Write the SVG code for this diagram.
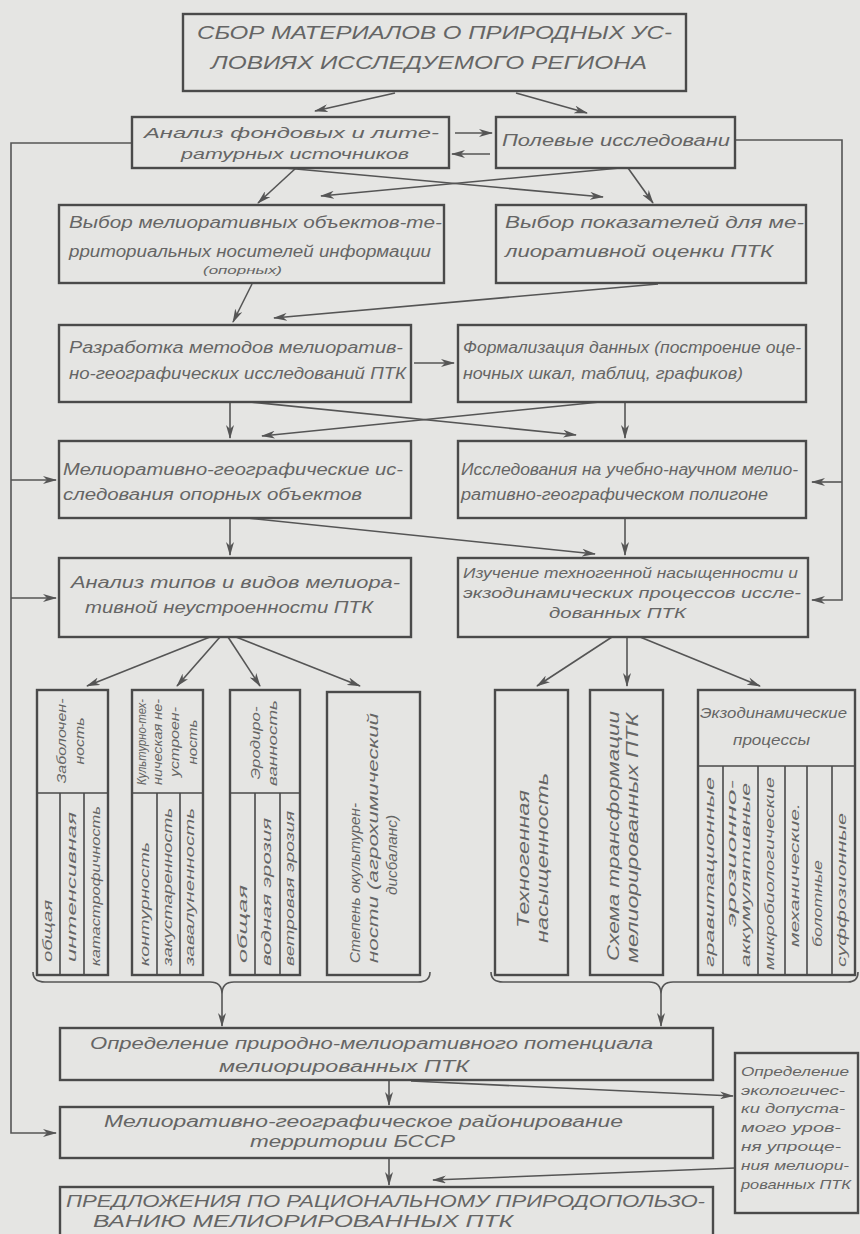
<svg xmlns="http://www.w3.org/2000/svg" width="860" height="1234" viewBox="0 0 860 1234">
<style>
.box{fill:none;stroke:#4a4a4a;stroke-width:2.4}
.div{fill:none;stroke:#4a4a4a;stroke-width:1.6}
.c{fill:none;stroke:#555;stroke-width:1.6}
.t{font-family:"Liberation Sans",Arial,sans-serif;font-style:italic;fill:#656565}
</style>
<defs>
<marker id="ah" viewBox="0 0 14 8" refX="13" refY="4" markerWidth="14" markerHeight="8" markerUnits="userSpaceOnUse" orient="auto"><path d="M0,0 L14,4 L0,8 L4,4 z" fill="#555"/></marker>
</defs>
<rect x="0" y="0" width="860" height="1234" fill="#e5e5e3"/>

<g id="connectors">
<path class="c" d="M132,143 H11 V1133 H56" marker-end="url(#ah)"/>
<path class="c" d="M11,480 H56" marker-end="url(#ah)"/>
<path class="c" d="M11,598 H56" marker-end="url(#ah)"/>
<path class="c" d="M735,140 H842 V600 H812" marker-end="url(#ah)"/>
<path class="c" d="M842,482 H812" marker-end="url(#ah)"/>
<path class="c" d="M395,93 L315,111" marker-end="url(#ah)"/>
<path class="c" d="M516,93 L587,113" marker-end="url(#ah)"/>
<path class="c" d="M455,133 L492,133" marker-end="url(#ah)"/>
<path class="c" d="M490,154 L452,154" marker-end="url(#ah)"/>
<path class="c" d="M296,168 L258,203" marker-end="url(#ah)"/>
<path class="c" d="M285,168 L603,197" marker-end="url(#ah)"/>
<path class="c" d="M620,168 L321,196" marker-end="url(#ah)"/>
<path class="c" d="M628,168 L653,203" marker-end="url(#ah)"/>
<path class="c" d="M252,284 L233,322" marker-end="url(#ah)"/>
<path class="c" d="M658,284 L274,318" marker-end="url(#ah)"/>
<path class="c" d="M414,363 L454,363" marker-end="url(#ah)"/>
<path class="c" d="M230,402 L230,438" marker-end="url(#ah)"/>
<path class="c" d="M625,402 L625,438" marker-end="url(#ah)"/>
<path class="c" d="M250,402 L576,435" marker-end="url(#ah)"/>
<path class="c" d="M600,402 L262,436" marker-end="url(#ah)"/>
<path class="c" d="M230,518 L230,555" marker-end="url(#ah)"/>
<path class="c" d="M625,518 L625,555" marker-end="url(#ah)"/>
<path class="c" d="M247,518 L595,554" marker-end="url(#ah)"/>
<path class="c" d="M210,637 L87,686" marker-end="url(#ah)"/>
<path class="c" d="M220,637 L177,686" marker-end="url(#ah)"/>
<path class="c" d="M228,637 L260,686" marker-end="url(#ah)"/>
<path class="c" d="M236,637 L360,686" marker-end="url(#ah)"/>
<path class="c" d="M612,637 L537,686" marker-end="url(#ah)"/>
<path class="c" d="M627,637 L627,686" marker-end="url(#ah)"/>
<path class="c" d="M640,637 L760,686" marker-end="url(#ah)"/>
<path class="c" d="M33,972 Q33,982 45,982 L210,982 Q222,982 222,994 Q222,982 234,982 L418,982 Q430,982 430,972"/>
<path class="c" d="M491,972 Q491,982 503,982 L649,982 Q661,982 661,994 Q661,982 673,982 L848,982 Q858,982 858,972"/>
<path class="c" d="M222,994 L222,1026" marker-end="url(#ah)"/>
<path class="c" d="M661,994 L661,1026" marker-end="url(#ah)"/>
<path class="c" d="M389,1080 L389,1105" marker-end="url(#ah)"/>
<path class="c" d="M411,1081 L733,1096" marker-end="url(#ah)"/>
<path class="c" d="M389,1158 L389,1185" marker-end="url(#ah)"/>
<path class="c" d="M735,1168 L433,1180" marker-end="url(#ah)"/>
</g>

<g id="n-sbor">
<rect class="box" x="183" y="14" width="503" height="77"/>
<text class="t" x="197" y="38.5" font-size="18" textLength="475" lengthAdjust="spacingAndGlyphs">СБОР МАТЕРИАЛОВ О ПРИРОДНЫХ УС-</text>
<text class="t" x="211" y="68.5" font-size="18" textLength="436" lengthAdjust="spacingAndGlyphs">ЛОВИЯХ ИССЛЕДУЕМОГО РЕГИОНА</text>
</g>

<g id="n-analiz-fond">
<rect class="box" x="132" y="117" width="317" height="51"/>
<text class="t" x="144" y="138" font-size="15" textLength="295" lengthAdjust="spacingAndGlyphs">Анализ фондовых и лите-</text>
<text class="t" x="181" y="159" font-size="15" textLength="228" lengthAdjust="spacingAndGlyphs">ратурных источников</text>
</g>

<g id="n-polevye">
<rect class="box" x="496" y="117" width="239" height="51"/>
<text class="t" x="502" y="146" font-size="16" textLength="228" lengthAdjust="spacingAndGlyphs">Полевые исследовани</text>
</g>

<g id="n-vybor-obj">
<rect class="box" x="59" y="205" width="385" height="78"/>
<text class="t" x="69" y="228" font-size="16" textLength="373" lengthAdjust="spacingAndGlyphs">Выбор мелиоративных объектов-те-</text>
<text class="t" x="69" y="257" font-size="16" textLength="362" lengthAdjust="spacingAndGlyphs">рриториальных носителей информации</text>
<text class="t" x="203" y="274" font-size="11" textLength="79" lengthAdjust="spacingAndGlyphs">(опорных)</text>
</g>

<g id="n-vybor-pokaz">
<rect class="box" x="496" y="205" width="310" height="78"/>
<text class="t" x="505" y="228" font-size="16" textLength="299" lengthAdjust="spacingAndGlyphs">Выбор показателей для ме-</text>
<text class="t" x="505" y="257" font-size="16" textLength="268" lengthAdjust="spacingAndGlyphs">лиоративной оценки ПТК</text>
</g>

<g id="n-razrabotka">
<rect class="box" x="59" y="325" width="352" height="77"/>
<text class="t" x="69" y="353" font-size="16" textLength="334" lengthAdjust="spacingAndGlyphs">Разработка методов мелиоратив-</text>
<text class="t" x="69" y="379" font-size="16" textLength="337" lengthAdjust="spacingAndGlyphs">но-географических исследований ПТК</text>
</g>

<g id="n-formalizaciya">
<rect class="box" x="458" y="325" width="348" height="77"/>
<text class="t" x="463" y="353" font-size="16" textLength="338" lengthAdjust="spacingAndGlyphs">Формализация данных (построение оце-</text>
<text class="t" x="463" y="379" font-size="16" textLength="280" lengthAdjust="spacingAndGlyphs">ночных шкал, таблиц, графиков)</text>
</g>

<g id="n-mel-geo-issl">
<rect class="box" x="59" y="441" width="352" height="77"/>
<text class="t" x="63" y="475" font-size="16" textLength="340" lengthAdjust="spacingAndGlyphs">Мелиоративно-географические ис-</text>
<text class="t" x="63" y="500" font-size="16" textLength="299" lengthAdjust="spacingAndGlyphs">следования опорных объектов</text>
</g>

<g id="n-poligon">
<rect class="box" x="458" y="441" width="348" height="77"/>
<text class="t" x="461" y="475" font-size="16" textLength="337" lengthAdjust="spacingAndGlyphs">Исследования на учебно-научном мелио-</text>
<text class="t" x="461" y="500" font-size="16" textLength="307" lengthAdjust="spacingAndGlyphs">ративно-географическом полигоне</text>
</g>

<g id="n-analiz-tipov">
<rect class="box" x="59" y="558" width="352" height="79"/>
<text class="t" x="71" y="588" font-size="16" textLength="329" lengthAdjust="spacingAndGlyphs">Анализ типов и видов мелиора-</text>
<text class="t" x="85" y="613" font-size="16" textLength="288" lengthAdjust="spacingAndGlyphs">тивной неустроенности ПТК</text>
</g>

<g id="n-izuchenie">
<rect class="box" x="458" y="558" width="350" height="79"/>
<text class="t" x="463" y="578" font-size="14" textLength="335" lengthAdjust="spacingAndGlyphs">Изучение техногенной насыщенности и</text>
<text class="t" x="463" y="598" font-size="14" textLength="338" lengthAdjust="spacingAndGlyphs">экзодинамических процессов иссле-</text>
<text class="t" x="549" y="618" font-size="14" textLength="137" lengthAdjust="spacingAndGlyphs">дованных ПТК</text>
</g>

<g id="n-zabolochennost">
<rect class="box" x="37" y="690" width="71" height="285"/>
<path class="div" d="M37,793 H108 M60,793 V975 M84,793 V975"/>
<text class="t" transform="translate(66,741) rotate(-90)" font-size="13" text-anchor="middle" textLength="85" lengthAdjust="spacingAndGlyphs">Заболочен-</text>
<text class="t" transform="translate(84,741) rotate(-90)" font-size="13" text-anchor="middle" textLength="47" lengthAdjust="spacingAndGlyphs">ность</text>
<text class="t" transform="translate(52,962) rotate(-90)" font-size="12" textLength="62" lengthAdjust="spacingAndGlyphs">общая</text>
<text class="t" transform="translate(76,962) rotate(-90)" font-size="12" textLength="150" lengthAdjust="spacingAndGlyphs">интенсивная</text>
<text class="t" transform="translate(100,966) rotate(-90)" font-size="12" textLength="160" lengthAdjust="spacingAndGlyphs">катастрофичность</text>
</g>

<g id="n-kult-tech">
<rect class="box" x="132" y="690" width="71" height="285"/>
<path class="div" d="M132,793 H203 M157,793 V975 M180,793 V975"/>
<text class="t" transform="translate(146,742) rotate(-90)" font-size="12" text-anchor="middle" textLength="86" lengthAdjust="spacingAndGlyphs">Культурно-тех-</text>
<text class="t" transform="translate(162,742) rotate(-90)" font-size="12" text-anchor="middle" textLength="86" lengthAdjust="spacingAndGlyphs">ническая не-</text>
<text class="t" transform="translate(179,742) rotate(-90)" font-size="12" text-anchor="middle" textLength="70" lengthAdjust="spacingAndGlyphs">устроен-</text>
<text class="t" transform="translate(197,742) rotate(-90)" font-size="12" text-anchor="middle" textLength="45" lengthAdjust="spacingAndGlyphs">ность</text>
<text class="t" transform="translate(149,966) rotate(-90)" font-size="12" textLength="124" lengthAdjust="spacingAndGlyphs">контурность</text>
<text class="t" transform="translate(172,966) rotate(-90)" font-size="12" textLength="158" lengthAdjust="spacingAndGlyphs">закустаренность</text>
<text class="t" transform="translate(194,966) rotate(-90)" font-size="12" textLength="158" lengthAdjust="spacingAndGlyphs">завалуненность</text>
</g>

<g id="n-erodirovannost">
<rect class="box" x="230" y="690" width="70" height="285"/>
<path class="div" d="M230,793 H300 M255,793 V975 M280,793 V975"/>
<text class="t" transform="translate(260,743) rotate(-90)" font-size="13" text-anchor="middle" textLength="73" lengthAdjust="spacingAndGlyphs">Эродиро-</text>
<text class="t" transform="translate(277,743) rotate(-90)" font-size="13" text-anchor="middle" textLength="86" lengthAdjust="spacingAndGlyphs">ванность</text>
<text class="t" transform="translate(247,963) rotate(-90)" font-size="12" textLength="78" lengthAdjust="spacingAndGlyphs">общая</text>
<text class="t" transform="translate(271,966) rotate(-90)" font-size="12" textLength="148" lengthAdjust="spacingAndGlyphs">водная эрозия</text>
<text class="t" transform="translate(294,966) rotate(-90)" font-size="12" textLength="155" lengthAdjust="spacingAndGlyphs">ветровая эрозия</text>
</g>

<g id="n-okulturennost">
<rect class="box" x="327" y="692" width="93" height="283"/>
<text class="t" transform="translate(360,963) rotate(-90)" font-size="15" textLength="160" lengthAdjust="spacingAndGlyphs">Степень окультурен-</text>
<text class="t" transform="translate(378,963) rotate(-90)" font-size="15" textLength="250" lengthAdjust="spacingAndGlyphs">ности (агрохимический</text>
<text class="t" transform="translate(397,895) rotate(-90)" font-size="15" textLength="80" lengthAdjust="spacingAndGlyphs">дисбаланс)</text>
</g>

<g id="n-tehnogennaya">
<rect class="box" x="495" y="690" width="73" height="285"/>
<text class="t" transform="translate(529,859) rotate(-90)" font-size="17" text-anchor="middle" textLength="138" lengthAdjust="spacingAndGlyphs">Техногенная</text>
<text class="t" transform="translate(548,858) rotate(-90)" font-size="17" text-anchor="middle" textLength="170" lengthAdjust="spacingAndGlyphs">насыщенность</text>
</g>

<g id="n-shema">
<rect class="box" x="590" y="690" width="73" height="285"/>
<text class="t" transform="translate(619,836) rotate(-90)" font-size="17" text-anchor="middle" textLength="250" lengthAdjust="spacingAndGlyphs">Схема трансформации</text>
<text class="t" transform="translate(638,838) rotate(-90)" font-size="17" text-anchor="middle" textLength="250" lengthAdjust="spacingAndGlyphs">мелиорированных ПТК</text>
</g>

<g id="n-ekzodinamicheskie">
<rect class="box" x="698" y="690" width="157" height="285"/>
<path class="div" d="M698,766 H855 M723,766 V975 M758,766 V975 M785,766 V975 M807,766 V975 M832,766 V975"/>
<text class="t" x="700" y="718" font-size="15" textLength="147" lengthAdjust="spacingAndGlyphs">Экзодинамические</text>
<text class="t" x="733" y="745" font-size="15" textLength="77" lengthAdjust="spacingAndGlyphs">процессы</text>
<text class="t" transform="translate(714,967) rotate(-90)" font-size="12" textLength="190" lengthAdjust="spacingAndGlyphs">гравитационные</text>
<text class="t" transform="translate(736,927) rotate(-90)" font-size="12" textLength="147" lengthAdjust="spacingAndGlyphs">эрозионно-</text>
<text class="t" transform="translate(750,967) rotate(-90)" font-size="12" textLength="184" lengthAdjust="spacingAndGlyphs">аккумулятивные</text>
<text class="t" transform="translate(774,970) rotate(-90)" font-size="12" textLength="193" lengthAdjust="spacingAndGlyphs">микробиологические</text>
<text class="t" transform="translate(799,947) rotate(-90)" font-size="12" textLength="144" lengthAdjust="spacingAndGlyphs">механические.</text>
<text class="t" transform="translate(822,947) rotate(-90)" font-size="12" textLength="87" lengthAdjust="spacingAndGlyphs">болотные</text>
<text class="t" transform="translate(846,967) rotate(-90)" font-size="12" textLength="154" lengthAdjust="spacingAndGlyphs">суффозионные</text>
</g>

<g id="n-opredelenie-pot">
<rect class="box" x="60" y="1028" width="653" height="52"/>
<text class="t" x="90" y="1049" font-size="16" textLength="563" lengthAdjust="spacingAndGlyphs">Определение  природно-мелиоративного  потенциала</text>
<text class="t" x="219" y="1072" font-size="16" textLength="250" lengthAdjust="spacingAndGlyphs">мелиорированных ПТК</text>
</g>

<g id="n-rayonirovanie">
<rect class="box" x="60" y="1107" width="653" height="51"/>
<text class="t" x="104" y="1127" font-size="16" textLength="519" lengthAdjust="spacingAndGlyphs">Мелиоративно-географическое районирование</text>
<text class="t" x="250" y="1147" font-size="16" textLength="205" lengthAdjust="spacingAndGlyphs">территории БССР</text>
</g>

<g id="n-predlozheniya">
<rect class="box" x="60" y="1187" width="653" height="60"/>
<text class="t" x="66" y="1207" font-size="16" textLength="639" lengthAdjust="spacingAndGlyphs">ПРЕДЛОЖЕНИЯ ПО РАЦИОНАЛЬНОМУ ПРИРОДОПОЛЬЗО-</text>
<text class="t" x="93" y="1227" font-size="16" textLength="420" lengthAdjust="spacingAndGlyphs">ВАНИЮ МЕЛИОРИРОВАННЫХ ПТК</text>
</g>

<g id="n-ekol-uroven">
<rect class="box" x="735" y="1053" width="123" height="160"/>
<text class="t" x="741" y="1076" font-size="13" textLength="108" lengthAdjust="spacingAndGlyphs">Определение</text>
<text class="t" x="741" y="1095" font-size="13" textLength="104" lengthAdjust="spacingAndGlyphs">экологичес-</text>
<text class="t" x="741" y="1113" font-size="13" textLength="104" lengthAdjust="spacingAndGlyphs">ки допуста-</text>
<text class="t" x="741" y="1132" font-size="13" textLength="100" lengthAdjust="spacingAndGlyphs">мого уров-</text>
<text class="t" x="741" y="1151" font-size="13" textLength="100" lengthAdjust="spacingAndGlyphs">ня упроще-</text>
<text class="t" x="741" y="1170" font-size="13" textLength="108" lengthAdjust="spacingAndGlyphs">ния мелиори-</text>
<text class="t" x="741" y="1189" font-size="13" textLength="110" lengthAdjust="spacingAndGlyphs">рованных ПТК</text>
</g>
</svg>
